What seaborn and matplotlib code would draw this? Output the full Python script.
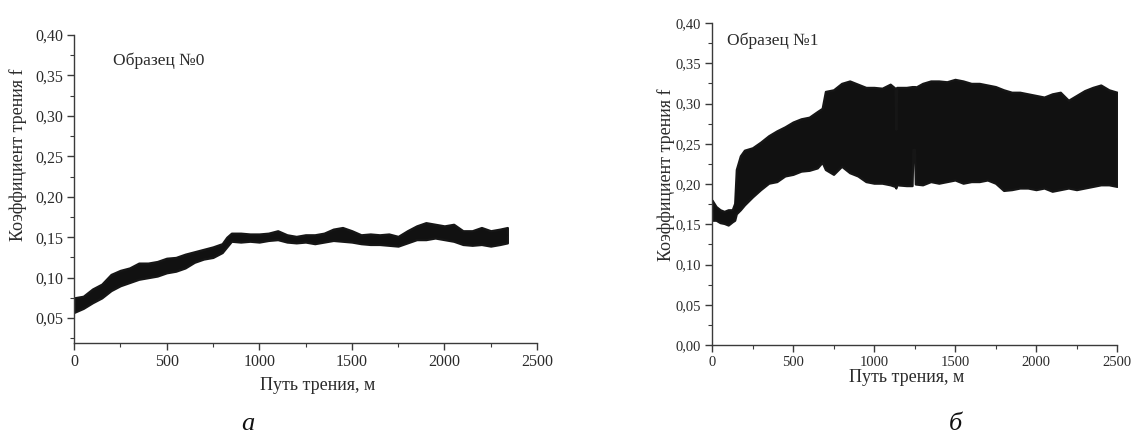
import numpy as np
import pandas as pd
import matplotlib
matplotlib.use("Agg")
import matplotlib.pyplot as plt
import seaborn as sns
from matplotlib.ticker import MultipleLocator

# ---------------- data ----------------
# Sample No0: friction coefficient band (lower / upper envelope) vs. friction path, m
x0 = [0, 50, 100, 150, 200, 250, 300, 350, 400, 450, 500, 550, 600, 650, 700, 750, 800,
      825, 850, 900, 950, 1000, 1050, 1100, 1150, 1200, 1250, 1300, 1350, 1400, 1450, 1500,
      1550, 1600, 1650, 1700, 1750, 1800, 1850, 1900, 1950, 2000, 2050, 2100, 2150, 2200,
      2250, 2300, 2340]
hi0 = [0.075, 0.077, 0.086, 0.092, 0.104, 0.109, 0.112, 0.118, 0.118, 0.120, 0.124, 0.125,
       0.129, 0.132, 0.135, 0.138, 0.142, 0.150, 0.155, 0.155, 0.154, 0.154, 0.155, 0.158,
       0.153, 0.151, 0.153, 0.153, 0.155, 0.160, 0.162, 0.158, 0.153, 0.154, 0.153, 0.154,
       0.151, 0.158, 0.164, 0.168, 0.166, 0.164, 0.166, 0.158, 0.158, 0.162, 0.158, 0.160,
       0.162]
lo0 = [0.057, 0.062, 0.069, 0.075, 0.084, 0.090, 0.094, 0.098, 0.100, 0.102, 0.106, 0.108,
       0.112, 0.119, 0.123, 0.125, 0.131, 0.138, 0.145, 0.144, 0.145, 0.144, 0.146, 0.147,
       0.144, 0.143, 0.144, 0.142, 0.144, 0.146, 0.145, 0.144, 0.142, 0.141, 0.141, 0.140,
       0.139, 0.143, 0.147, 0.147, 0.149, 0.147, 0.145, 0.141, 0.140, 0.141, 0.139, 0.141,
       0.143]

# Sample No1
x1 = [0, 25, 50, 75, 100, 125, 140, 150, 175, 200, 250, 300, 350, 400, 450, 500, 550, 600,
      650, 680, 700, 750, 800, 850, 900, 950, 1000, 1050, 1100, 1130, 1135, 1140, 1200,
      1235, 1240, 1250, 1255, 1300, 1350, 1400, 1450, 1500, 1550, 1600, 1650, 1700, 1750,
      1800, 1850, 1900, 1950, 2000, 2050, 2100, 2150, 2200, 2250, 2300, 2350, 2400, 2450,
      2500]
hi1 = [0.180, 0.172, 0.168, 0.166, 0.168, 0.168, 0.176, 0.218, 0.235, 0.242, 0.245, 0.252,
       0.260, 0.266, 0.271, 0.277, 0.281, 0.283, 0.290, 0.294, 0.315, 0.317, 0.325, 0.328,
       0.324, 0.320, 0.320, 0.319, 0.324, 0.319, 0.268, 0.320, 0.320, 0.321, 0.321, 0.321,
       0.320, 0.325, 0.328, 0.328, 0.327, 0.330, 0.328, 0.325, 0.325, 0.323, 0.321, 0.317,
       0.314, 0.314, 0.312, 0.310, 0.308, 0.312, 0.314, 0.304, 0.310, 0.316, 0.320, 0.323,
       0.317, 0.314]
lo1 = [0.155, 0.155, 0.152, 0.151, 0.149, 0.153, 0.155, 0.163, 0.168, 0.174, 0.184, 0.193,
       0.201, 0.203, 0.210, 0.212, 0.216, 0.217, 0.220, 0.227, 0.218, 0.212, 0.222, 0.214,
       0.210, 0.203, 0.201, 0.201, 0.199, 0.197, 0.195, 0.199, 0.198, 0.198, 0.243, 0.243,
       0.200, 0.199, 0.203, 0.201, 0.203, 0.205, 0.201, 0.203, 0.203, 0.205, 0.201, 0.192,
       0.193, 0.195, 0.195, 0.193, 0.195, 0.191, 0.193, 0.195, 0.193, 0.195, 0.197, 0.199,
       0.199, 0.197]

xticks = [0, 500, 1000, 1500, 2000, 2500]
xtick_labels = ["0", "500", "1000", "1500", "2000", "2500"]
yticks0 = [0.05, 0.10, 0.15, 0.20, 0.25, 0.30, 0.35, 0.40]
ytick_labels0 = ["0,05", "0,10", "0,15", "0,20", "0,25", "0,30", "0,35", "0,40"]
yticks1 = [0.00, 0.05, 0.10, 0.15, 0.20, 0.25, 0.30, 0.35, 0.40]
ytick_labels1 = ["0,00", "0,05", "0,10", "0,15", "0,20", "0,25", "0,30", "0,35", "0,40"]

xlabel = "Путь трения, м"
ylabel = "Коэффициент трения f"
titles = ["Образец №0", "Образец №1"]
captions = ["а", "б"]

# ---------------- style ----------------
sns.set_style("ticks")
plt.rcParams["font.family"] = ["Liberation Serif", "DejaVu Serif"]
TXT = "#2b2b2b"
AX = "#3a3a3a"

fig = plt.figure(figsize=(11.34, 4.40), dpi=100)
ax0 = fig.add_axes([74 / 1134, 1 - 343 / 440, 463 / 1134, 308 / 440])
ax1 = fig.add_axes([712 / 1134, 1 - 345 / 440, 405 / 1134, 322 / 440])


def band_frame(x, lo, hi):
    return pd.DataFrame({"x": list(x) + list(x), "f": list(lo) + list(hi)})


def draw(ax, x, lo, hi, ylim, yticks, ylabels, title, tx, ty, fs_tick, ylab_xy, xlab_xy):
    df = band_frame(x, lo, hi)
    sns.lineplot(data=df, x="x", y="f", ax=ax, estimator="mean", errorbar=("pi", 100),
                 color="#111111", linewidth=0.8,
                 err_kws={"alpha": 1.0, "linewidth": 1.6, "edgecolor": "#161616"})
    ax.set_xlim(0, 2500)
    ax.set_ylim(*ylim)
    ax.set_xticks(xticks)
    ax.set_xticklabels(xtick_labels)
    ax.set_yticks(yticks)
    ax.set_yticklabels(ylabels)
    ax.xaxis.set_minor_locator(MultipleLocator(250))
    ax.yaxis.set_minor_locator(MultipleLocator(0.025))
    ax.tick_params(which="major", direction="out", length=5, width=1, colors=AX,
                   labelcolor=TXT, labelsize=fs_tick, pad=3)
    ax.tick_params(which="minor", direction="out", length=3, width=0.8, colors=AX)
    for s in ["top", "right"]:
        ax.spines[s].set_visible(False)
    for s in ["left", "bottom"]:
        ax.spines[s].set_color(AX)
        ax.spines[s].set_linewidth(1.0)
    ax.set_xlabel(xlabel, fontsize=13, color=TXT)
    ax.set_ylabel(ylabel, fontsize=13, color=TXT)
    ax.yaxis.set_label_coords(*ylab_xy)
    ax.xaxis.set_label_coords(*xlab_xy)
    ax.text(tx, ty, title, fontsize=12.5, color=TXT, ha="left", va="center")
    ax.grid(False)


draw(ax0, x0, lo0, hi0, (0.0192, 0.40), yticks0, ytick_labels0, titles[0], 210, 0.368,
     11.5, (-0.1015, 0.61), (0.527, -0.110))
draw(ax1, x1, lo1, hi1, (0.0, 0.40), yticks1, ytick_labels1, titles[1], 90, 0.378,
     10.5, (-0.091, 0.528), (0.481, -0.0745))

fig.text(248 / 1134, 1 - 424 / 440, captions[0], fontsize=19, style="italic", color="#111",
         ha="center", va="center")
fig.text(955 / 1134, 1 - 424 / 440, captions[1], fontsize=19, style="italic", color="#111",
         ha="center", va="center")

fig.savefig("out.png", dpi=100, facecolor="white")
